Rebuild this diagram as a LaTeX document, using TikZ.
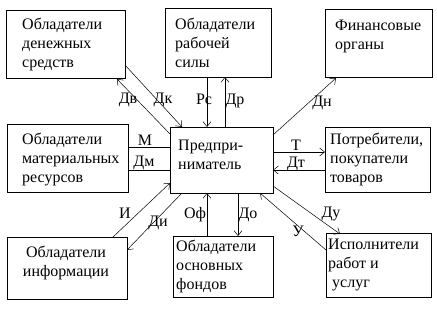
\documentclass[tikz,border=0pt]{standalone}
\usepackage{fontspec}
\setmainfont{Liberation Serif}
\usetikzlibrary{arrows.meta,calc}
\begin{document}
\begin{tikzpicture}[x=1pt,y=-1pt,
  box/.style={draw,line width=0.8pt,rectangle,inner sep=0pt,outer sep=0pt,anchor=north west},
  txt/.style={inner sep=0pt,anchor=north west,align=left,font=\fontsize{16pt}{19pt}\selectfont},
  lbl/.style={inner sep=0pt,anchor=base,font=\fontsize{16pt}{19pt}\selectfont},
  conn/.style={line width=0.5pt},
  arr/.style={line width=0.5pt,-{Straight Barb[length=5pt,width=8pt]}}]
\useasboundingbox (0,0) rectangle (437,311);
% boxes
\node[box,minimum width=119pt,minimum height=68pt] (b1) at (6,10) {};
\node[box,minimum width=106pt,minimum height=69pt] (b2) at (165,8) {};
\node[box,minimum width=107pt,minimum height=68pt] (b3) at (325,9) {};
\node[box,minimum width=121pt,minimum height=68pt] (b4) at (7,124) {};
\node[box,minimum width=103pt,minimum height=66pt] (b5) at (170,127) {};
\node[box,minimum width=105pt,minimum height=65pt] (b6) at (325,127) {};
\node[box,minimum width=120pt,minimum height=62pt] (b7) at (7,237) {};
\node[box,minimum width=100pt,minimum height=61pt] (b8) at (173,236) {};
\node[box,minimum width=105pt,minimum height=64pt] (b9) at (326,233) {};
% texts
\node[txt] (t1) at ($(b1.north west)+(16,8)$) {Обладатели\\денежных\\средств};
\node[txt] (t2) at ($(b2.north west)+(10,10)$) {Обладатели\\рабочей\\силы};
\node[txt] (t3) at ($(b3.north west)+(10,11)$) {Финансовые\\органы};
\node[txt] (t4) at ($(b4.north west)+(15,9)$) {Обладатели\\материальных\\ресурсов};
\node[txt] (t5) at ($(b5.north west)+(8,13)$) {Предпри-\\ниматель};
\node[txt] (t6) at ($(b6.north west)+(5,6)$) {Потребители,\\покупатели\\товаров};
\node[txt,anchor=north,align=center] (t7) at ($(b7.north west)+(59,9)$) {Обладатели\\информации};
\node[txt] (t8) at ($(b8.north west)+(3,4)$) {Обладатели\\основных\\фондов};
\node[txt] (t9) at ($(b9.north west)+(2,6)$) {Исполнители\\работ и\\\hspace*{4pt}услуг};
% connectors
\draw[arr] ($(b5.north west)+(0,7)$) -- ($(b1.south east)+(-8,1)$);
\draw[arr] ($(b1.south east)+(0,-13)$) -- ($(b5.north west)+(12,0)$);
\draw[arr] ($(b2.south west)+(42,0)$) -- ($(b5.north west)+(37,0)$);
\draw[arr] ($(b5.north west)+(55,0)$) -- ($(b2.south west)+(60,0)$);
\draw[arr] ($(b5.north east)+(0,8)$) -- ($(b3.south west)+(11,1)$);
\draw[conn] ($(b4.north east)+(0,23)$) -- ($(b5.north west)+(0,20)$);
\draw[conn] ($(b4.north east)+(0,46)$) -- ($(b5.north west)+(0,43)$);
\draw[arr] ($(b5.north east)+(0,25)$) -- ($(b6.north west)+(0,25)$);
\draw[arr] ($(b6.north west)+(0,43)$) -- ($(b5.north east)+(0,43)$);
\draw[arr] ($(b7.north west)+(106,0)$) -- ($(b5.south west)+(0,-10)$);
\draw[arr] ($(b5.south west)+(12,0)$) -- ($(b7.north east)+(0,13)$);
\draw[arr] ($(b8.north west)+(34,0)$) -- ($(b5.south west)+(37,0)$);
\draw[arr] ($(b5.south west)+(68,0)$) -- ($(b8.north west)+(65,0)$);
\draw[arr] ($(b9.north west)+(0,17)$) -- ($(b5.south east)+(-13,0)$);
\draw[arr] ($(b5.south east)+(0,-7)$) -- ($(b9.north west)+(14,1)$);
% labels
\node[lbl] (lDv) at (128,103) {Дв};
\node[lbl] (lDk) at (163,103) {Дк};
\node[lbl] (lRs) at (204,104) {Рс};
\node[lbl] (lDr) at (235,104) {Др};
\node[lbl] (lDn) at (322,106) {Дн};
\node[lbl] (lM) at (145,145) {М};
\node[lbl] (lDm) at (144,166) {Дм};
\node[lbl] (lT) at (296,150) {Т};
\node[lbl] (lDt) at (296,167) {Дт};
\node[lbl] (lI) at (125,218) {И};
\node[lbl] (lDi) at (158,226) {Ди};
\node[lbl] (lOf) at (195,218) {Оф};
\node[lbl] (lDo) at (248,218) {До};
\node[lbl] (lU) at (298,236) {У};
\node[lbl] (lDu) at (331,217) {Ду};
\end{tikzpicture}
\end{document}
